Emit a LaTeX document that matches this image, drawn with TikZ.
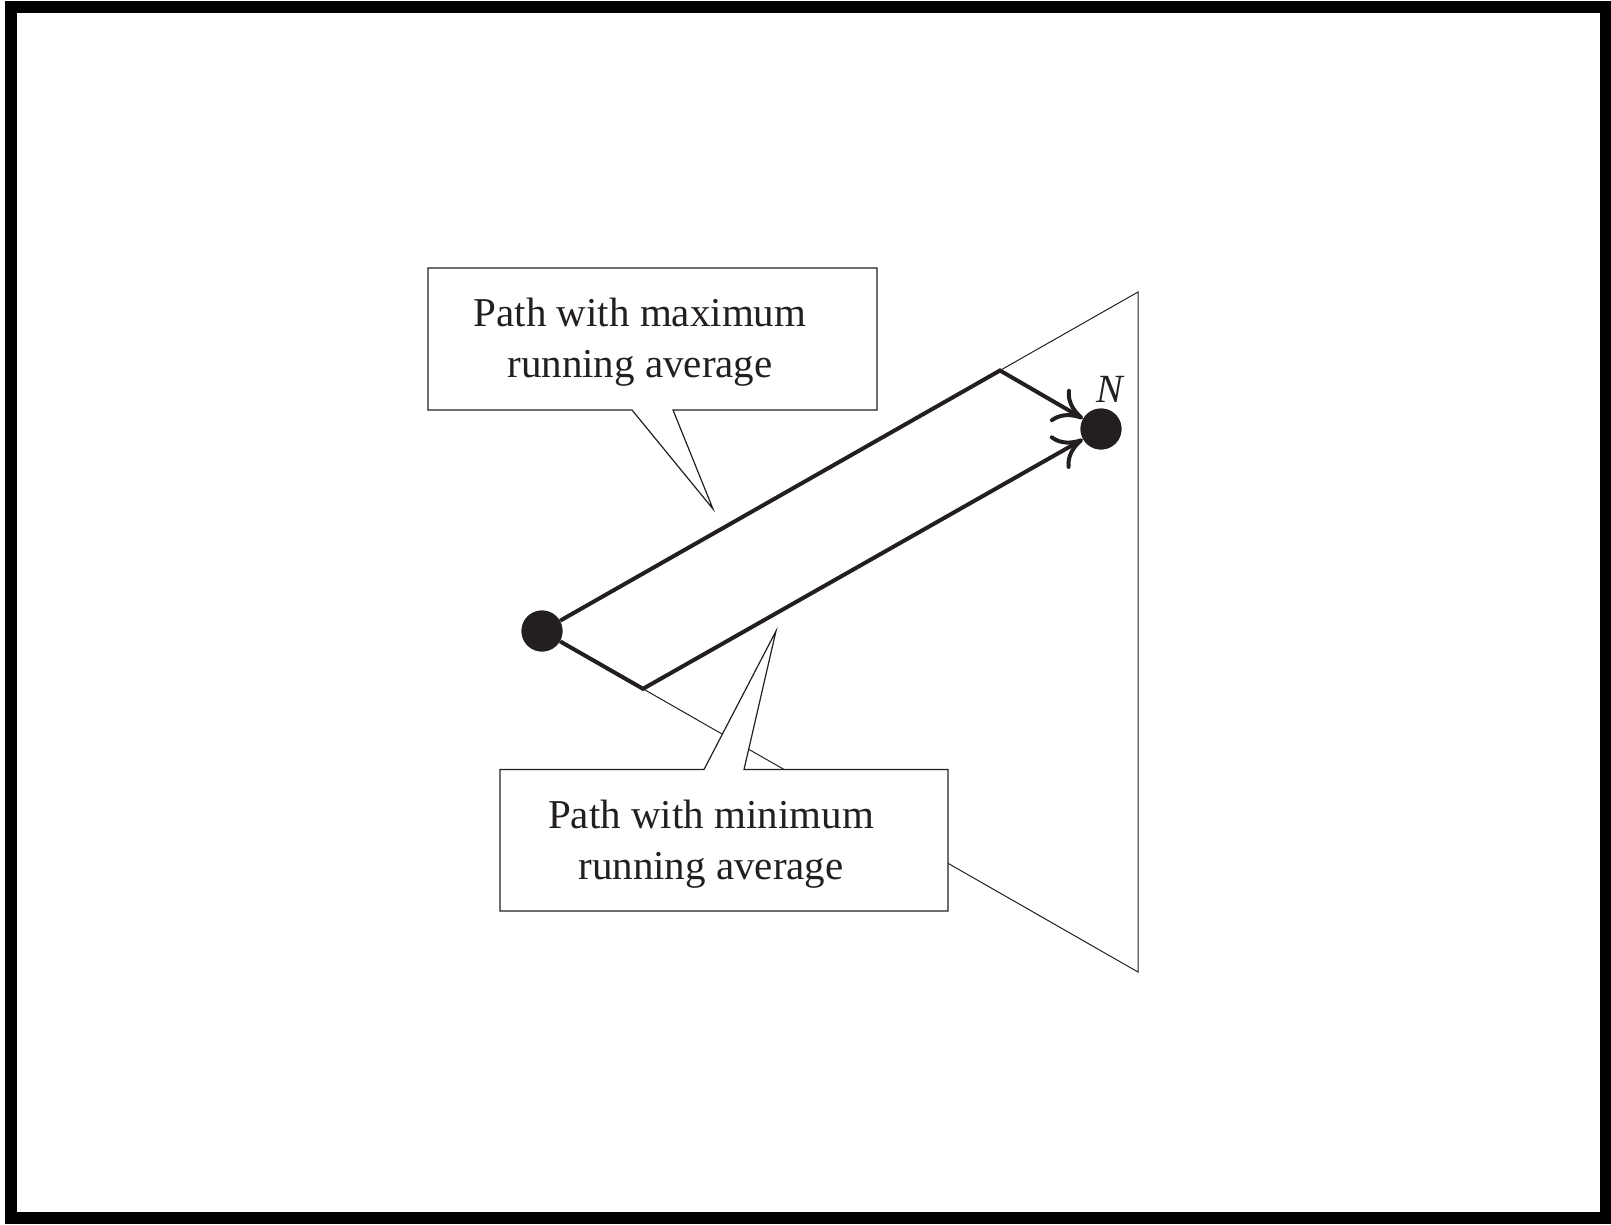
\documentclass[tikz,border=0pt]{standalone}
\usepackage{fontspec}
\setmainfont{Liberation Serif}
\usetikzlibrary{arrows.meta}
\definecolor{ink}{HTML}{231F20}
\begin{document}
\begin{tikzpicture}[x=0.5pt,y=-0.5pt,
  frameline/.style={draw=black, line width=6pt},
  thinedge/.style={draw=ink, line width=0.5pt},
  callout/.style={draw=ink, fill=white, line width=0.6pt, line join=miter},
  pathline/.style={draw=ink, line width=2pt},
  arrowpath/.style={pathline, -{Computer Modern Rightarrow[length=14pt,width=19pt]}},
  vertex/.style={circle, fill=ink, minimum size=20.5pt, inner sep=0pt},
  calltext/.style={align=center, inner sep=0pt, text=ink,
    font=\fontsize{20.5}{25.5}\selectfont},
  endlabel/.style={inner sep=0pt, text=ink, font=\fontsize{20}{24}\selectfont\itshape}]

% page and frame
\useasboundingbox (0,0) rectangle (1611,1225);
\draw[frameline] (11,7.5) rectangle (1605.5,1218);

% corners of the triangular region
\coordinate (T) at (1138,292);
\coordinate (Bv) at (1138,972);
\coordinate (B) at (1000,370.5);
\coordinate (C) at (643,688.8);

\node[vertex] (A) at (542,631) {};
\node[vertex] (N) at (1101,429) {};

% triangle outline
\draw[thinedge] (A.center) -- (T) -- (Bv) -- cycle;

% callout for the upper path
\draw[callout] (428,268) -- (877,268) -- (877,410) -- (673,410)
  -- (713,509) -- (632,410) -- (428,410) -- cycle;
\node[calltext, anchor=base] (maxtext) at (640,377)
  {Path with maximum\\running average};

% callout for the lower path
\draw[callout] (500,769.5) -- (704,769.5) -- (776,631) -- (744,769.5)
  -- (948,769.5) -- (948,911) -- (500,911) -- cycle;
\node[calltext, anchor=base] (mintext) at (711,879)
  {Path with minimum\\running average};

% the two paths to N
\draw[arrowpath] (A) -- (B) -- (N);
\draw[arrowpath] (A) -- (C) -- (N);

\node[vertex] at (A) {};
\node[vertex] at (N) {};
\node[endlabel, anchor=base] (Nlab) at (1110,402) {N};
\end{tikzpicture}
\end{document}
